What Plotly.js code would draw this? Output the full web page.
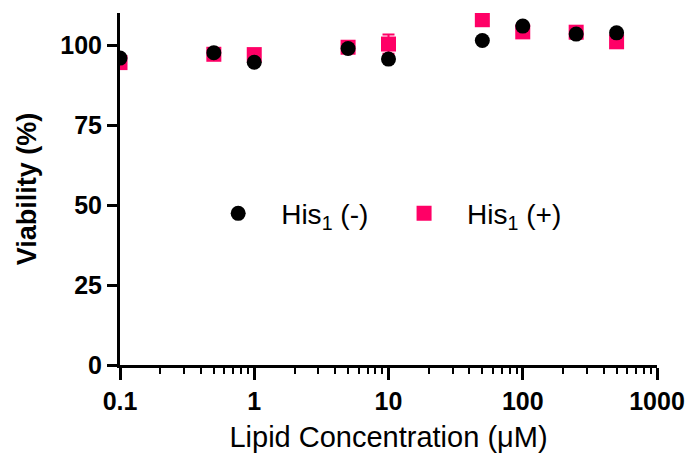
<!DOCTYPE html>
<html><head><meta charset="utf-8">
<script src="https://cdn.plot.ly/plotly-3.0.1.min.js"></script>
<style>body{margin:0;background:#fff}#chart{width:689px;height:463px}</style>
</head><body><div id="chart"></div>
<script>
const concentrations = [0.1, 0.5, 1, 5, 10, 50, 100, 250, 500];
const hisMinus = [95.9, 97.6, 94.6, 98.9, 95.6, 101.4, 105.9, 103.4, 103.8];
const hisMinusErr = [0.8, 0.8, 0.8, 0.8, 0.8, 0.8, 0.8, 0.8, 0.8];
const hisPlus = [94.5, 97.1, 97.0, 99.3, 100.3, 107.9, 104.1, 104.0, 101.0];
const hisPlusErr = [1.0, 1.0, 1.0, 1.0, 3.0, 1.0, 1.0, 1.0, 1.0];
const seriesNames = ['His<sub>1</sub> (-)&nbsp;', 'His<sub>1</sub> (+)'];
const xTickVals = [0.1, 1, 10, 100, 1000];
const xTickText = ['0.1', '1', '10', '100', '1000'];
const yTickVals = [0, 25, 50, 75, 100];

const pink = '#FF0066';
const fam = 'Liberation Sans, Arial, sans-serif';
const traces = [
  {x: concentrations, y: hisPlus, name: seriesNames[1], type: 'scatter', mode: 'markers',
   marker: {symbol: 'square', size: 15, color: pink},
   error_y: {type: 'data', array: hisPlusErr, color: pink, thickness: 2, width: 6},
   showlegend: false},
  {x: concentrations, y: hisMinus, name: seriesNames[0], type: 'scatter', mode: 'markers',
   marker: {symbol: 'circle', size: 15, color: '#000'},
   error_y: {type: 'data', array: hisMinusErr, color: '#000', thickness: 2, width: 6}},
  {x: [null], y: [null], name: seriesNames[1], type: 'scatter', mode: 'markers',
   marker: {symbol: 'square', size: 15, color: pink}}
];

const layout = {
  width: 689, height: 463,
  margin: {l: 120, r: 32, t: 13, b: 98},
  paper_bgcolor: '#fff', plot_bgcolor: '#fff',
  font: {family: fam, color: '#000'},
  showlegend: true,
  legend: {orientation: 'h', x: 0.14, y: 0.43, xanchor: 'left', yanchor: 'middle',
    font: {size: 28, color: '#000', family: fam}, itemwidth: 76, bgcolor: 'rgba(0,0,0,0)', traceorder: 'normal'},
  xaxis: {
    type: 'log', range: [-1, 3],
    tickvals: xTickVals, ticktext: xTickText,
    tickfont: {size: 25, family: fam, weight: 'bold'},
    ticks: 'outside', ticklen: 12, tickwidth: 3, tickcolor: '#000',
    showline: true, linewidth: 3, linecolor: '#000',
    showgrid: false, zeroline: false,
    minor: {ticks: 'outside', ticklen: 6, tickwidth: 2, tickcolor: '#000', dtick: 'D1', showgrid: false},
    title: {text: 'Lipid Concentration (μM)', font: {size: 29, color: '#000', family: fam}, standoff: 13}
  },
  yaxis: {
    range: [0, 110],
    tickvals: yTickVals,
    tickfont: {size: 25, family: fam, weight: 'bold'},
    ticks: 'outside', ticklen: 10, tickwidth: 3, tickcolor: '#000',
    showline: true, linewidth: 3, linecolor: '#000',
    showgrid: false, zeroline: false,
    title: {text: 'Viability (%)', font: {size: 27, color: '#000', weight: 'bold', family: fam}, standoff: 16}
  }
};
Plotly.newPlot('chart', traces, layout, {displayModeBar: false, staticPlot: true});
</script>
</body></html>
